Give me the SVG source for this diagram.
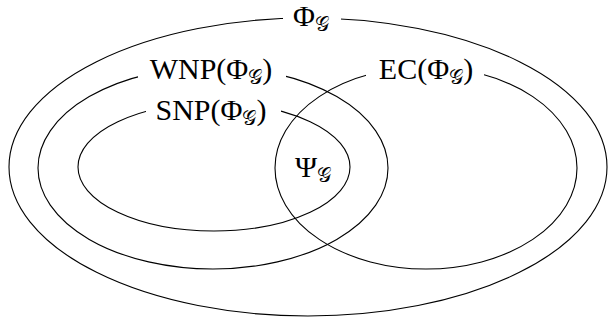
<svg xmlns="http://www.w3.org/2000/svg" width="609" height="324" viewBox="0 0 609 324">
<style>
.set{fill:none;stroke:#000;stroke-width:1.1}
.bg{fill:#fff;stroke:none}
.lbl{font-family:"Liberation Serif","DejaVu Serif",serif;font-size:30px;fill:#000;text-anchor:middle}
.sub{font-family:"DejaVu Serif","DejaVu Sans","Noto Sans",serif;font-size:20px;font-weight:normal}
</style>
<rect width="609" height="324" fill="#fff"/>
<g id="phi">
<ellipse class="set" cx="308" cy="167" rx="299" ry="149"/>
<rect class="bg" x="283" y="4" width="58" height="28"/>
<text class="lbl" x="311" y="26">Φ<tspan class="sub" dy="5">𝒢</tspan></text>
</g>
<g id="wnp">
<ellipse class="set" cx="213" cy="168" rx="175" ry="101"/>
<rect class="bg" x="138" y="53" width="148" height="32"/>
<text class="lbl" x="211" y="79">WNP(Φ<tspan class="sub" dy="5">𝒢</tspan><tspan dy="-5">)</tspan></text>
</g>
<g id="snp">
<ellipse class="set" cx="214" cy="167" rx="136" ry="64"/>
<rect class="bg" x="146" y="90" width="135" height="34"/>
<text class="lbl" x="211" y="120">SNP(Φ<tspan class="sub" dy="5">𝒢</tspan><tspan dy="-5">)</tspan></text>
</g>
<g id="ec">
<ellipse class="set" cx="426" cy="168" rx="151" ry="101"/>
<rect class="bg" x="366" y="53" width="118" height="32"/>
<text class="lbl" x="426" y="79">EC(Φ<tspan class="sub" dy="5">𝒢</tspan><tspan dy="-5">)</tspan></text>
</g>
<g id="psi">
<text class="lbl" x="313" y="177">Ψ<tspan class="sub" dy="5">𝒢</tspan></text>
</g>
</svg>
